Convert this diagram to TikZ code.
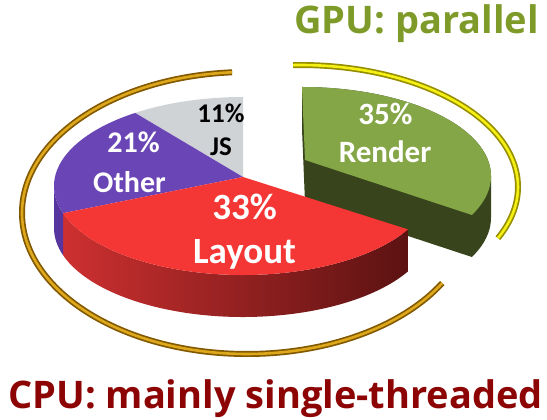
\documentclass[tikz,border=0pt]{standalone}
\usepackage{fontspec}
\setmainfont{Carlito}
\newfontfamily\titlefont{Open Sans}
\usetikzlibrary{calc}
\definecolor{gpugreen}{RGB}{126,155,42}
\definecolor{cpured}{RGB}{140,4,4}
\definecolor{layouttop}{RGB}{244,54,52}
\definecolor{layoutL}{RGB}{205,48,48}
\definecolor{layoutR}{RGB}{92,18,18}
\definecolor{othertop}{RGB}{106,69,181}
\definecolor{otherside}{RGB}{86,54,158}
\definecolor{jstop}{RGB}{208,211,214}
\definecolor{rendertop}{RGB}{133,166,70}
\definecolor{renderside}{RGB}{56,68,28}
\definecolor{golddark}{RGB}{130,88,0}
\definecolor{goldlight}{RGB}{222,168,28}
\definecolor{yeldark}{RGB}{150,142,0}
\definecolor{yellight}{RGB}{245,240,20}
\begin{document}
\begin{tikzpicture}[x=1pt,y=1pt,
  lbl/.style={font=\bfseries\fontsize{#1}{#1}\selectfont, text=white, inner sep=0pt, anchor=base},
  title/.style={font=\titlefont\bfseries\fontsize{38}{38}\selectfont, inner sep=0pt, anchor=base},
  rim/.style={x radius=189, y radius=89},
  goldring/.style={x radius=225, y radius=141},
  yelring/.style={x radius=218, y radius=122}]
\useasboundingbox (0,0) rectangle (547,420);
\coordinate (C) at (243,234);
\coordinate (A) at (243,243);
\coordinate (C2) at (302,244);
\coordinate (A2) at (305,260);
\coordinate (G) at (247,207);
\coordinate (Y) at (300,233);
% rings
\draw[golddark,line width=6pt] ($(G)+(93.8:225 and 141)$) arc[start angle=93.8,end angle=330.2,goldring];
\draw[goldlight,line width=2.6pt] ($(G)+(93.8:225 and 141)$) arc[start angle=93.8,end angle=330.2,goldring];
\draw[yeldark,line width=6pt] ($(Y)+(91.8:218 and 122)$) arc[start angle=91.8,end angle=-24.8,yelring];
\draw[yellight,line width=2.6pt] ($(Y)+(91.8:218 and 122)$) arc[start angle=91.8,end angle=-24.8,yelring];
% render slice (exploded)
\fill[renderside] ($(C2)+(90:189 and 89)$) -- ++(0,-42) -- ($(A2)+(0,-42)$) -- ($(C2)+(-26:189 and 89)+(0,-42)$) arc[start angle=-26,end angle=0,rim] -- ++(0,42) arc[start angle=0,end angle=90,rim] -- cycle;
\fill[rendertop] (A2) -- ($(C2)+(-26:189 and 89)$) arc[start angle=-26,end angle=90,rim] -- cycle;
% sides of main pie
\shade[left color=layoutL,right color=layoutR] ($(C)+(197.8:189 and 89)$) arc[start angle=197.8,end angle=330.8,rim] -- ++(0,-42) arc[start angle=330.8,end angle=197.8,rim] -- cycle;
\fill[otherside] ($(C)+(180:189 and 89)$) arc[start angle=180,end angle=197.8,rim] -- ++(0,-42) arc[start angle=197.8,end angle=180,rim] -- cycle;
% top faces
\fill[jstop] (A) -- ($(C)+(90:189 and 89)$) arc[start angle=90,end angle=124.8,rim] -- cycle;
\fill[othertop] (A) -- ($(C)+(124.8:189 and 89)$) arc[start angle=124.8,end angle=197.8,rim] -- cycle;
\fill[layouttop] (A) -- ($(C)+(197.8:189 and 89)$) arc[start angle=197.8,end angle=330.8,rim] -- cycle;
% labels
\node[lbl=27, text=black] (js1) at (221,297) {11\%};
\node[lbl=27, text=black] (js2) at (221,264) {JS};
\node[lbl=30] (ot1) at (133.5,267) {21\%};
\node[lbl=30] (ot2) at (129.5,227) {Other};
\node[lbl=37] (la1) at (244.5,200) {33\%};
\node[lbl=37] (la2) at (244.5,156) {Layout};
\node[lbl=31] (re1) at (385.5,295) {35\%};
\node[lbl=31] (re2) at (385,257) {Render};
\node[title, text=gpugreen] (gpu) at (416.5,386) {GPU: parallel};
\node[title, text=cpured] (cpu) at (275.5,11) {CPU: mainly single-threaded};
\end{tikzpicture}
\end{document}
